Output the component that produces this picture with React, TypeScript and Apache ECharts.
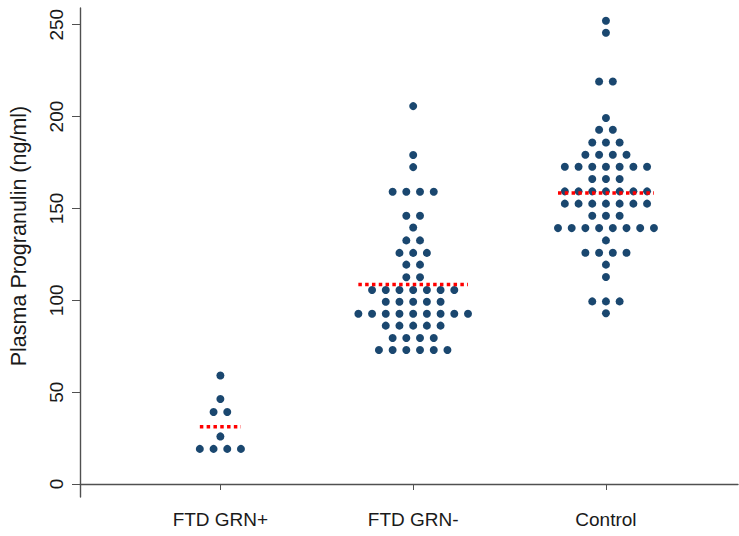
import React, { useEffect, useRef } from "react";
import * as echarts from "echarts";

const categories = ["FTD GRN+", "FTD GRN-", "Control"];

const grnPositive = [59.1, 46.3, 39.2, 39.2, 25.9, 19.1, 19.1, 19.1, 19.1];

const grnNegative = [
  205.7, 179.1, 172.5,
  159.1, 159.1, 159.1, 159.1,
  146.0, 146.0, 139.6,
  132.6, 132.6,
  125.8, 125.8, 125.8,
  119.4, 119.4,
  112.5, 112.5,
  105.6, 105.6, 105.6, 105.6, 105.6, 105.6, 105.6,
  99.2, 99.2, 99.2, 99.2, 99.2,
  92.7, 92.7, 92.7, 92.7, 92.7, 92.7, 92.7, 92.7, 92.7,
  86.2, 86.2, 86.2, 86.2, 86.2,
  79.5, 79.5, 79.5, 79.5,
  72.9, 72.9, 72.9, 72.9, 72.9, 72.9,
];

const control = [
  252.2, 245.6, 219.1, 219.1, 199.2,
  192.8, 192.8,
  185.9, 185.9, 185.9,
  179.2, 179.2, 179.2, 179.2,
  172.7, 172.7, 172.7, 172.7, 172.7, 172.7, 172.7,
  166.0, 166.0, 166.0,
  159.3, 159.3, 159.3, 159.3, 159.3, 159.3, 159.3,
  152.6, 152.6, 152.6, 152.6, 152.6, 152.6, 152.6,
  146.0, 146.0, 146.0,
  139.3, 139.3, 139.3, 139.3, 139.3, 139.3, 139.3, 139.3,
  132.6,
  125.9, 125.9, 125.9, 125.9,
  119.4, 112.7,
  99.4, 99.4, 99.4,
  92.9,
];

const groupMeans = [31.2, 108.6, 158.4];
const yTickValues = [0, 50, 100, 150, 200, 250];
const yAxisTitle = "Plasma Progranulin (ng/ml)";

const groups = [grnPositive, grnNegative, control];
const DOT_STEP = 0.0711; // horizontal spacing of dots, in category units
const NAVY = "#1a476f";
const FONT = "Liberation Sans, Arial, sans-serif";

function swarm(values: number[], center: number) {
  const rows = new Map<number, number>();
  values.forEach((v) => rows.set(v, (rows.get(v) || 0) + 1));
  const pts: number[][] = [];
  let maxCount = 0;
  rows.forEach((n, v) => {
    maxCount = Math.max(maxCount, n);
    for (let i = 0; i < n; i++) {
      pts.push([center + (i - (n - 1) / 2) * DOT_STEP, v]);
    }
  });
  return { pts, maxCount };
}

export default function App() {
  const ref = useRef<HTMLDivElement>(null);
  useEffect(() => {
    if (!ref.current) return;
    const chart = echarts.init(ref.current, null, { renderer: "svg" });
    const series: any[] = [];
    groups.forEach((vals, gi) => {
      const center = gi + 1;
      const { pts, maxCount } = swarm(vals, center);
      series.push({
        type: "scatter",
        data: pts,
        symbol: "circle",
        symbolSize: 8,
        itemStyle: { color: NAVY, opacity: 1 },
        z: 2,
      });
      const half = ((maxCount - 1) / 2) * DOT_STEP;
      series.push({
        type: "line",
        data: [
          [center - half, groupMeans[gi]],
          [center + half, groupMeans[gi]],
        ],
        symbol: "none",
        lineStyle: { color: "#ff0000", width: 3.5, type: [3.5, 3.3] },
        z: 3,
      });
    });

    chart.setOption({
      animation: false,
      backgroundColor: "#ffffff",
      grid: { left: 80, right: 1, top: 8, bottom: 39, outerBoundsMode: "none" },
      xAxis: {
        type: "value",
        min: 0.2717,
        max: 3.685,
        axisLine: { show: true, lineStyle: { color: "#505050", width: 1.4 } },
        axisTick: { show: true, customValues: [1, 2, 3], length: 6, lineStyle: { color: "#505050" } },
        axisLabel: {
          customValues: [1, 2, 3],
          formatter: (v: number) => categories[Math.round(v) - 1] || "",
          fontSize: 19,
          fontFamily: FONT,
          color: "#1a1a1a",
          margin: 13,
        },
        splitLine: { show: false },
      },
      yAxis: {
        type: "value",
        min: -7.08,
        max: 259.1,
        axisLine: { show: true, lineStyle: { color: "#505050", width: 1.4 } },
        axisTick: { show: true, customValues: yTickValues, length: 8, lineStyle: { color: "#505050" } },
        axisLabel: {
          customValues: yTickValues,
          rotate: 90,
          fontSize: 19,
          fontFamily: FONT,
          color: "#1a1a1a",
          margin: 14,
        },
        splitLine: { show: false },
      },
      graphic: [
        {
          type: "text",
          x: 19,
          y: 236,
          rotation: Math.PI / 2,
          style: {
            text: yAxisTitle,
            x: 0,
            y: 0,
            align: "center",
            verticalAlign: "middle",
            fontSize: 21.5,
            fontFamily: FONT,
            fill: "#1a1a1a",
          },
        },
      ],
      series,
    });
    return () => chart.dispose();
  }, []);
  return (
    <div
      ref={ref}
      style={{ position: "fixed", left: 0, top: 0, width: 739, height: 536 }}
    />
  );
}
